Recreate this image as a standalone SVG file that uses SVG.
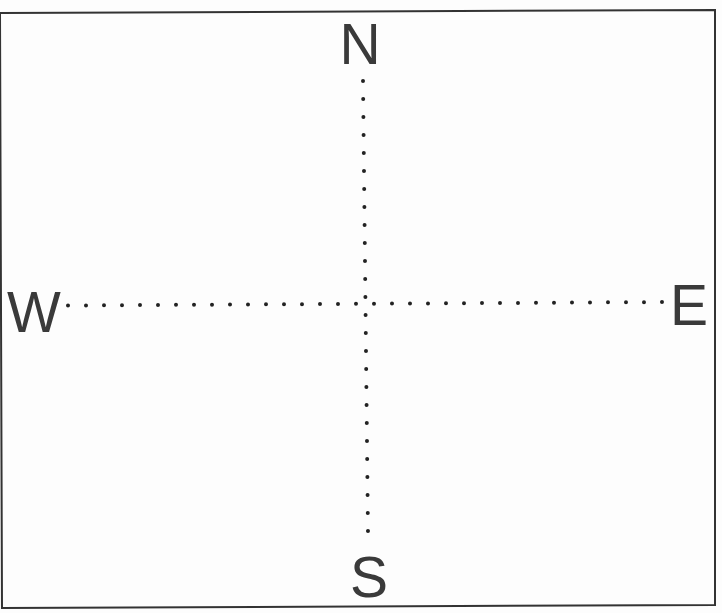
<svg xmlns="http://www.w3.org/2000/svg" width="722" height="613" viewBox="0 0 722 613">
<style>
.lbl{font-family:"Liberation Sans",Arial,sans-serif;font-size:57px;fill:#3a3a3a;text-anchor:middle}
.dot{stroke:#222;stroke-width:4;stroke-linecap:round;stroke-dasharray:0 18;fill:none}
</style>
<rect width="722" height="613" fill="#fdfdfd"/>
<polygon points="0,13 715,10 715,605 2,608" fill="none" stroke="#333" stroke-width="2"/>
<g id="connectors">
<line class="dot" x1="363" y1="81" x2="368" y2="533"/>
<line class="dot" x1="68" y1="305.5" x2="668" y2="302"/>
</g>
<g id="N"><text class="lbl" x="360" y="64">N</text></g>
<g id="W"><text class="lbl" x="34" y="332">W</text></g>
<g id="E"><text class="lbl" x="689" y="325">E</text></g>
<g id="S"><text class="lbl" x="369" y="597">S</text></g>
</svg>
